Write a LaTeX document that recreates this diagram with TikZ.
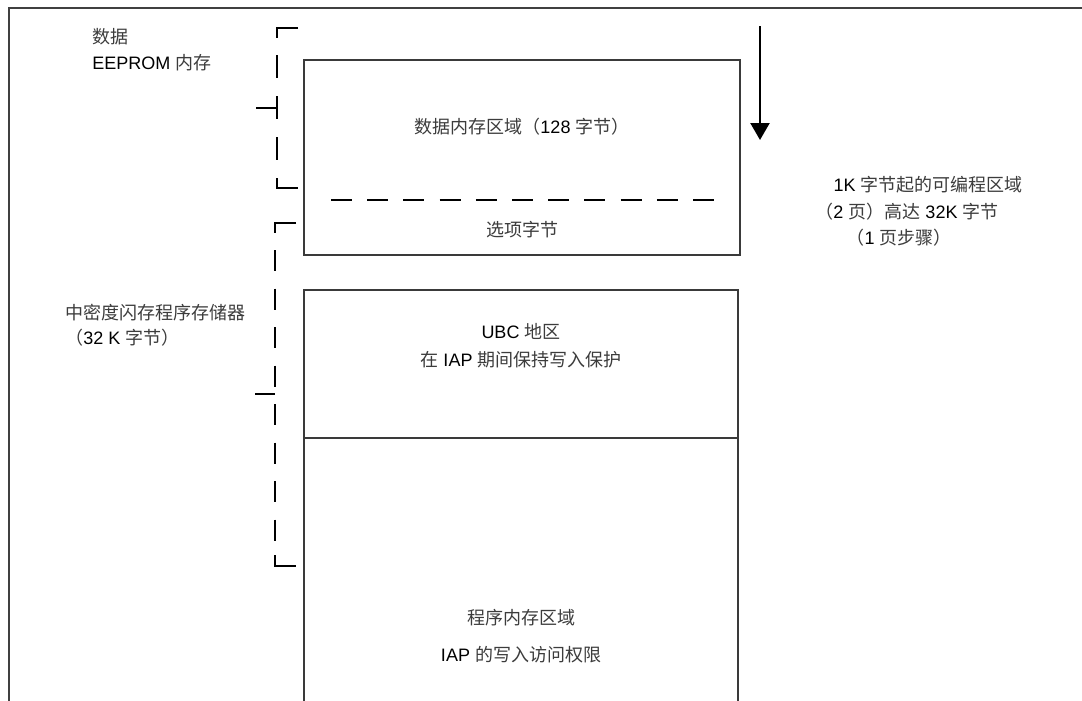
\documentclass[tikz,border=0pt]{standalone}
\usepackage{fontspec}
\setmainfont{Liberation Sans}
\newfontfamily\cjk{Noto Sans CJK SC}
\usetikzlibrary{arrows.meta}
\definecolor{framegray}{HTML}{404040}
\definecolor{boxgray}{HTML}{3A3A3A}
\definecolor{cjkgray}{HTML}{3C3C3C}
\newcommand\zhtxt[1]{{\cjk\color{cjkgray}#1}}
\begin{document}
\begin{tikzpicture}[x=0.75pt, y=-0.75pt,
  lbl/.style={inner sep=0pt, font=\fontsize{13.5}{16}\selectfont},
  memblock/.style={draw=boxgray, line width=1pt, inner sep=0pt},
  brk/.style={draw=black, line width=1.5pt},
  sepline/.style={draw=black, line width=1.5pt, dash pattern=on 15.75pt off 11.4pt}]
\useasboundingbox (0,0) rectangle (1082,700);
\fill[white] (0,0) rectangle (1082,700);
% outer frame
\draw[framegray, line width=1.5pt] (8.5,705) -- (8.5,7.5) -- (1085,7.5);

% memory blocks
\node[memblock, minimum width=327pt, minimum height=146.25pt] (dataBox) at (522,157.5) {};
\node[memblock, minimum width=325.5pt, minimum height=111pt] (ubcBox) at (521,364) {};
\node[memblock, minimum width=325.5pt, minimum height=204pt, anchor=north] (progBox) at (521,438) {};

% dashed separator inside data box
\coordinate (sepL) at (331,200);
\coordinate (sepR) at (714,200);
\draw[sepline] (sepL) -- (sepR);

% texts inside blocks
\node[lbl, anchor=base] (tData) at (522,133.5) {\zhtxt{数据内存区域（}128 \zhtxt{字节）}};
\node[lbl, anchor=base] (tOpt) at (522,236) {\zhtxt{选项字节}};
\node[lbl, anchor=base] (tUbc1) at (521,338.5) {UBC \zhtxt{地区}};
\node[lbl, anchor=base] (tUbc2) at (521,366.5) {\zhtxt{在} IAP \zhtxt{期间保持写入保护}};
\node[lbl, anchor=base] (tProg1) at (521,624.5) {\zhtxt{程序内存区域}};
\node[lbl, anchor=base] (tProg2) at (521,661.5) {IAP \zhtxt{的写入访问权限}};

% left labels
\node[lbl, anchor=base west] (tEe1) at (92,43.5) {\zhtxt{数据}};
\node[lbl, anchor=base west] (tEe2) at (92,69) {EEPROM \zhtxt{内存}};
\node[lbl, anchor=base west] (tFl1) at (65,319.5) {\zhtxt{中密度闪存程序存储器}};
\node[lbl, anchor=base west] (tFl2) at (65,344.5) {\zhtxt{（}32 K \zhtxt{字节）}};

% right labels
\node[lbl, anchor=base] (tR1) at (928,191.5) {1K \zhtxt{字节起的可编程区域}};
\node[lbl, anchor=base] (tR2) at (907,218.5) {\zhtxt{（}2 \zhtxt{页）高达} 32K \zhtxt{字节}};
\node[lbl, anchor=base] (tR3) at (899,244.5) {\zhtxt{（}1 \zhtxt{页步骤）}};

% arrow
\coordinate (arrS) at (760,26);
\coordinate (arrE) at (760,140);
\draw[line width=1.7pt, -{Triangle[length=12.75pt,width=14.25pt]}] (arrS) -- (arrE);

% bracket: data EEPROM
\draw[brk] (298,28) -- (277,28) -- (277,38);
\foreach \a in {55,96,137} \draw[brk] (277,\a) -- (277,\a+23);
\draw[brk] (277,178) -- (277,188) -- (298,188);
\draw[brk] (256,108) -- (277,108);

% bracket: flash program memory
\draw[brk] (296,223) -- (275,223) -- (275,233);
\foreach \a in {250,288.5,327,365.5,404,442.5,481,519.5} \draw[brk] (275,\a) -- (275,\a+21);
\draw[brk] (275,555) -- (275,566) -- (296,566);
\draw[brk] (255,394) -- (275,394);
\end{tikzpicture}
\end{document}
